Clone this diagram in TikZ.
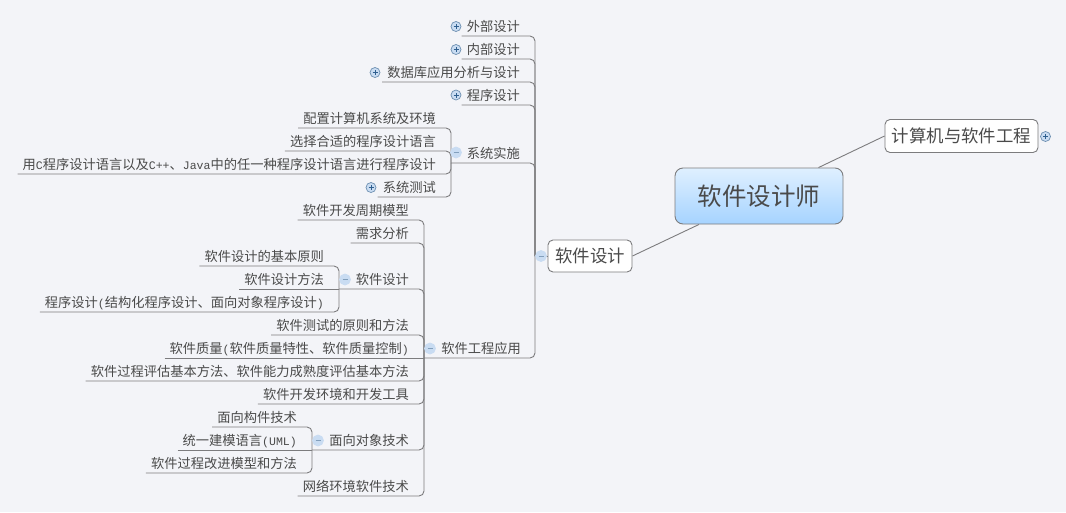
\documentclass[tikz,border=0pt]{standalone}
\usepackage{fontspec}
\setmainfont{Noto Sans CJK SC}
\newfontfamily\hw{Liberation Mono}[Scale=0.87]
\usetikzlibrary{positioning}
\definecolor{bgcol}{HTML}{F3F4F8}
\definecolor{linecol}{HTML}{7C7C7E}
\definecolor{textcol}{HTML}{4A4A4A}
\definecolor{rootlight}{HTML}{DFF0FF}
\definecolor{rootdark}{HTML}{A6D3FF}
\definecolor{iconfill}{HTML}{C9DCF2}
\definecolor{icondark}{HTML}{2F5F8F}
\tikzset{
    leaf/.style={anchor=south east, inner xsep=5pt, inner ysep=2pt, text height=10pt, text depth=2pt,
        text=textcol, font=\fontsize{13.25}{15}\selectfont},
    branch/.style={draw=linecol, line width=0.9pt, rounded corners=5pt},
    topicbox/.style={draw=linecol, line width=0.9pt, rounded corners=5pt, fill=white, text=textcol,
        inner sep=0pt, font=\fontsize{17.4}{20}\selectfont},
    rootbox/.style={draw=linecol, line width=0.9pt, rounded corners=8pt, top color=rootlight, bottom color=rootdark,
        text=textcol, inner sep=0pt, minimum width=168pt, minimum height=56pt, font=\fontsize{24.5}{28}\selectfont},
    plusicon/.style={circle, draw=icondark!70, fill=iconfill, line width=0.7pt, minimum size=10pt, inner sep=0pt,
        path picture={\draw[icondark, line width=1pt] (path picture bounding box.center) ++(-2.5pt,0) -- ++(5pt,0)
            (path picture bounding box.center) ++(0,-2.5pt) -- ++(0,5pt);}},
    minusicon/.style={circle, draw=iconfill, fill=iconfill, line width=0.7pt, minimum size=11pt, inner sep=0pt,
        path picture={\draw[icondark!60, line width=1pt] (path picture bounding box.center) ++(-2.5pt,0) -- ++(5pt,0);}}
}
\begin{document}
\begin{tikzpicture}[x=1pt, y=-1pt]
    \fill[bgcol] (0,0) rectangle (1066,512);
    \useasboundingbox (0,0) rectangle (1066,512);

    % Main topics
    \node[rootbox] (root) at (759,196) {软件设计师};
    \node[topicbox, minimum width=84pt, minimum height=32pt] (design) at (590,256) {软件设计};
    \node[topicbox, minimum width=153pt, minimum height=33pt] (computer) at (961.5,136) {计算机与软件工程};
    \draw[branch] (design.east) -- (root);
    \draw[branch] (computer.west) -- (root);

    % Junctions on the trunks
    \coordinate (tr1) at (535,256);
    \coordinate (tr2) at (451,163);
    \coordinate (tr3) at (424,358);
    \coordinate (tr4) at (339,289);
    \coordinate (tr5) at (312,450);

    % First level
    \node[leaf] (a1) at (525,36) {外部设计};
    \node[leaf] (a2) at (525,59) {内部设计};
    \node[leaf] (a3) at (525,82) {数据库应用分析与设计};
    \node[leaf] (a4) at (525,105) {程序设计};
    \node[leaf] (a5) at (525,163) {系统实施};
    \node[leaf] (a6) at (526,358) {软件工程应用};
    \draw[branch] (a1.south west) -| (tr1);
    \draw[branch] (a2.south west) -| (tr1);
    \draw[branch] (a3.south west) -| (tr1);
    \draw[branch] (a4.south west) -| (tr1);
    \draw[branch] (tr2) -| (tr1);
    \draw[branch] (tr3) -| (tr1);
    \draw[branch] (tr1) -- (design.west);

    % System implementation
    \node[leaf] (b1) at (441,128) {配置计算机系统及环境};
    \node[leaf] (b2) at (441,151) {选择合适的程序设计语言};
    \node[leaf] (b3) at (441,174) {用{\hw C}程序设计语言以及{\hw C++}、{\hw Java}中的任一种程序设计语言进行程序设计};
    \node[leaf] (b4) at (441,197) {系统测试};
    \draw[branch] (b1.south west) -| (tr2);
    \draw[branch] (b2.south west) -| (tr2);
    \draw[branch] (b3.south west) -| (tr2);
    \draw[branch] (b4.south west) -| (tr2);

    % Software engineering
    \node[leaf] (c1) at (414,220) {软件开发周期模型};
    \node[leaf] (c2) at (414,243) {需求分析};
    \node[leaf] (c3) at (414,289) {软件设计};
    \node[leaf] (c4) at (414,335) {软件测试的原则和方法};
    \node[leaf] (c5) at (414,358) {软件质量{\hw (}软件质量特性、软件质量控制{\hw )}};
    \node[leaf] (c6) at (414,381) {软件过程评估基本方法、软件能力成熟度评估基本方法};
    \node[leaf] (c7) at (414,404) {软件开发环境和开发工具};
    \node[leaf] (c8) at (414,450) {面向对象技术};
    \node[leaf] (c9) at (414,496) {网络环境软件技术};
    \draw[branch] (c1.south west) -| (tr3);
    \draw[branch] (c2.south west) -| (tr3);
    \draw[branch] (tr4) -| (tr3);
    \draw[branch] (c4.south west) -| (tr3);
    \draw[branch] (c5.south west) -- (tr3);
    \draw[branch] (c6.south west) -| (tr3);
    \draw[branch] (c7.south west) -| (tr3);
    \draw[branch] (tr5) -| (tr3);
    \draw[branch] (c9.south west) -| (tr3);

    % Software design details
    \node[leaf] (d1) at (329,266) {软件设计的基本原则};
    \node[leaf] (d2) at (329,289) {软件设计方法};
    \node[leaf] (d3) at (329,312) {程序设计{\hw (}结构化程序设计、面向对象程序设计{\hw )}};
    \draw[branch] (d1.south west) -| (tr4);
    \draw[branch] (d2.south west) -- (tr4);
    \draw[branch] (d3.south west) -| (tr4);

    % Object oriented details
    \node[leaf] (e1) at (302,427) {面向构件技术};
    \node[leaf] (e2) at (302,450) {统一建模语言{\hw (UML)}};
    \node[leaf] (e3) at (302,473) {软件过程改进模型和方法};
    \draw[branch] (e1.south west) -| (tr5);
    \draw[branch] (e2.south west) -- (tr5);
    \draw[branch] (e3.south west) -| (tr5);

    % Folding icons
    \node[plusicon] (i1) at (456,26.5) {};
    \node[plusicon] (i2) at (456,49.5) {};
    \node[plusicon] (i3) at (375,72.5) {};
    \node[plusicon] (i4) at (456,95) {};
    \node[plusicon] (i5) at (371,187.5) {};
    \node[plusicon] (i6) at (1045.5,136.5) {};
    \node[minusicon] (i7) at (456,152.5) {};
    \node[minusicon] (i8) at (345,279.5) {};
    \node[minusicon] (i9) at (430,348.5) {};
    \node[minusicon] (i10) at (318,440.5) {};
    \node[minusicon] (i11) at (541,256) {};
\end{tikzpicture}
\end{document}
